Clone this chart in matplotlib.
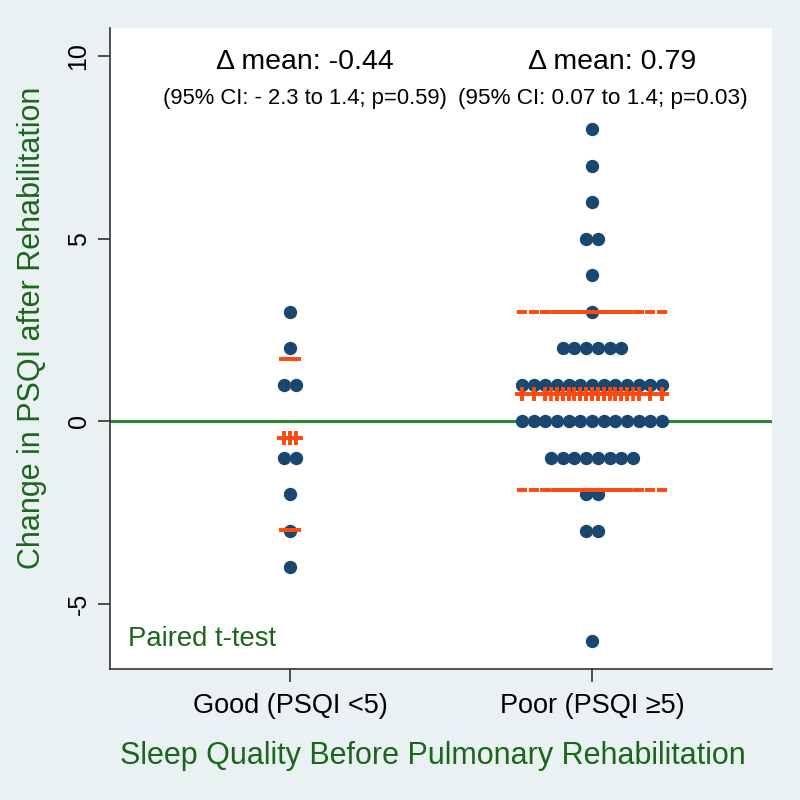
import numpy as np
import matplotlib
matplotlib.use('Agg')
import matplotlib.pyplot as plt
from matplotlib.transforms import ScaledTranslation

plt.rcParams['font.family'] = ['Liberation Sans', 'DejaVu Sans']

# data
groups = ['Good (PSQI <5)', 'Poor (PSQI \u22655)']
good_values = [3, 2, 1, 1, -1, -1, -2, -3, -4]
poor_levels = [8, 7, 6, 5, 4, 3, 2, 1, 0, -1, -2, -3, -6]
poor_counts = [1, 1, 1, 2, 1, 1, 6, 13, 13, 8, 2, 2, 1]
poor_values = np.repeat(poor_levels, poor_counts)
mean_text = ['\u0394 mean: -0.44', '\u0394 mean: 0.79']
ci_text = ['(95% CI: - 2.3 to 1.4; p=0.59)', '(95% CI: 0.07 to 1.4; p=0.03)']

bg = '#e9f1f3'
navy = '#1a476f'
orange = '#ff4a0f'
green = '#2a8a2a'
dkgreen = '#1c661c'

fig = plt.figure(figsize=(8, 8), dpi=100, facecolor=bg)
ax = fig.add_axes([0.1375, 0.16375, 0.8275, 0.80125])

step = 0.0387  # horizontal stacking step (data units)


def stack_x(values, center):
    values = np.asarray(values)
    xs = np.zeros(len(values), dtype=float)
    for v in np.unique(values):
        idx = np.where(values == v)[0]
        n = len(idx)
        xs[idx] = center + (np.arange(n) - (n - 1) / 2) * step
    return xs


# lines drawn a little low, as in the original
shift = ax.transData + ScaledTranslation(0, -5 / 72, fig.dpi_scale_trans)

for i, vals in enumerate([good_values, poor_values], start=1):
    vals = np.asarray(vals, dtype=float)
    xs = stack_x(vals, i)
    m = vals.mean()
    sd = vals.std(ddof=1)
    ax.scatter(xs, vals, s=92, color=navy, zorder=3, linewidths=0)
    ax.plot(xs, np.full_like(xs, m), linestyle='none', marker='+', ms=9.5,
            mew=2.6, color=orange, zorder=4)
    for yv in (m + sd, m - sd):
        ax.plot(xs, np.full_like(xs, yv), linestyle='none', marker='_', ms=7.9,
                mew=2.6, color=orange, zorder=4, transform=shift)

ax.axhline(0, color=green, lw=2.2, zorder=2)

ax.text(1.05, 9.83, mean_text[0], ha='center', va='center', fontsize=20.5)
ax.text(1.05, 8.84, ci_text[0], ha='center', va='center', fontsize=15.8)
ax.text(2.066, 9.83, mean_text[1], ha='center', va='center', fontsize=20.5)
ax.text(2.036, 8.84, ci_text[1], ha='center', va='center', fontsize=16.2)
ax.text(0.465, -5.95, 'Paired t-test', ha='left', va='center', fontsize=19.8, color=dkgreen)

ax.set_xlim(0.404, 2.596)
ax.set_ylim(-6.78, 10.77)
ax.set_xticks([1, 2])
ax.set_xticklabels(groups, fontsize=19.5)
ax.set_yticks([-5, 0, 5, 10])
ax.set_yticklabels(['-5', '0', '5', '10'], fontsize=18, rotation=90, va='center')
ax.tick_params(axis='both', length=9, width=1.2, color='#333333', pad=5)
ax.tick_params(axis='x', pad=8)

for s in ['top', 'right']:
    ax.spines[s].set_visible(False)
for s in ['left', 'bottom']:
    ax.spines[s].set_linewidth(1.2)
    ax.spines[s].set_color('#333333')

ax.set_xlabel('Sleep Quality Before Pulmonary Rehabilitation', fontsize=22, color=dkgreen)
ax.set_ylabel('Change in PSQI after Rehabilitation', fontsize=22, color=dkgreen)
ax.xaxis.set_label_coords(0.488, -0.113)
ax.yaxis.set_label_coords(-0.095, 0.532)

fig.savefig('out.png', dpi=100, facecolor=bg)
